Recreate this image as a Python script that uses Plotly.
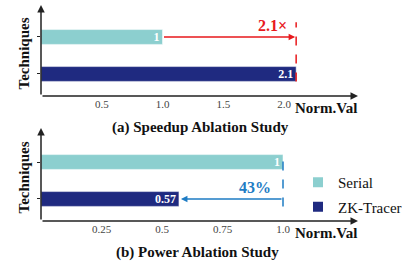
import plotly.graph_objects as go

techniques = ["Serial", "ZK-Tracer"]
speedup_vals = [1.0, 2.1]
power_vals = [1.0, 0.57]
speedup_ticks = [0.5, 1.0, 1.5, 2.0]
speedup_ticktext = ["0.5", "1.0", "1.5", "2.0"]
power_ticks = [0.25, 0.5, 0.75, 1.0]
power_ticktext = ["0.25", "0.5", "0.75", "1.0"]
speedup_label = "2.1×"
power_label = "43%"
colors = ["#8CCFCF", "#1F2A80"]

W, H = 417, 265
SERIF = "Liberation Serif"

def px(x):
    return x / W

def py(y):
    return 1 - y / H

fig = go.Figure()

for i, t in enumerate(techniques):
    fig.add_trace(go.Bar(
        y=[t], x=[speedup_vals[i]], orientation="h", name=t,
        marker=dict(color=colors[i], line=dict(color="white", width=0.5)),
        width=0.4, text=[f"{speedup_vals[i]:g}"], textposition="inside",
        insidetextanchor="end", constraintext="none", textangle=0,
        textfont=dict(family=SERIF, size=12, color="white", weight="bold"),
        xaxis="x", yaxis="y", showlegend=True, legendgroup=t,
    ))
for i, t in enumerate(techniques):
    fig.add_trace(go.Bar(
        y=[t], x=[power_vals[i]], orientation="h", name=t,
        marker=dict(color=colors[i], line=dict(color="white", width=0.5)),
        width=0.4, text=[f"{power_vals[i]:g}"], textposition="inside",
        insidetextanchor="end", constraintext="none", textangle=0,
        textfont=dict(family=SERIF, size=12, color="white", weight="bold"),
        xaxis="x2", yaxis="y2", showlegend=False, legendgroup=t,
    ))

x_l, x_r = 41, 358
top_t, top_b = 7, 96
bot_t, bot_b = 130, 221

tickfont = dict(family=SERIF, size=11, color="#444")
yax_common = dict(
    type="category", categoryarray=techniques[::-1], showticklabels=False,
    ticks="outside", ticklen=3, tickcolor="#222", showgrid=False,
    zeroline=False, showline=False,
)
fig.update_layout(
    width=W, height=H, margin=dict(l=0, r=0, t=0, b=0),
    paper_bgcolor="white", plot_bgcolor="white", barmode="overlay",
    xaxis=dict(domain=[px(x_l), px(x_r)], range=[0, (x_r - x_l) / 121.5],
               tickvals=speedup_ticks, ticktext=speedup_ticktext,
               tickfont=tickfont, showgrid=False, zeroline=False,
               showline=False, ticks="", anchor="y"),
    yaxis=dict(domain=[py(top_b), py(top_t)], range=[-0.595, 1.81],
               anchor="x", **yax_common),
    xaxis2=dict(domain=[px(x_l), px(x_r)], range=[0, (x_r - x_l) / 242],
                tickvals=power_ticks, ticktext=power_ticktext,
                tickfont=tickfont, showgrid=False, zeroline=False,
                showline=False, ticks="", anchor="y2"),
    yaxis2=dict(domain=[py(bot_b), py(bot_t)], range=[-0.595, 1.865],
                anchor="x2", **yax_common),
    legend=dict(x=px(298), y=py(166), xanchor="left", yanchor="top",
                font=dict(family=SERIF, size=15, color="#111"),
                bgcolor="rgba(0,0,0,0)", itemsizing="constant",
                tracegroupgap=2),
    font=dict(family=SERIF),
)

ann = []
for (yb, yt) in [(top_b, top_t), (bot_b, bot_t)]:
    ann.append(dict(xref="paper", yref="paper", axref="pixel", ayref="pixel",
                    x=px(x_l), y=py(yt - 2), ax=0, ay=(yb - yt + 2),
                    showarrow=True, arrowhead=2, arrowsize=1, arrowwidth=1.5,
                    arrowcolor="#222", text=""))
    ann.append(dict(xref="paper", yref="paper", axref="pixel", ayref="pixel",
                    x=px(x_r), y=py(yb), ax=-(x_r - x_l), ay=0,
                    showarrow=True, arrowhead=2, arrowsize=1, arrowwidth=1.5,
                    arrowcolor="#222", text=""))
    ann.append(dict(xref="paper", yref="paper", x=px(293), y=py(yb + 12),
                    xanchor="left", yanchor="middle", showarrow=False,
                    text="<b>Norm.Val</b>",
                    font=dict(family=SERIF, size=15, color="#111")))
    ann.append(dict(xref="paper", yref="paper", x=px(23), y=py((yt + yb) / 2 + 2),
                    xanchor="center", yanchor="middle", showarrow=False,
                    textangle=-90, text="<b>Techniques</b>",
                    font=dict(family=SERIF, size=15, color="#111")))

ann.append(dict(xref="paper", yref="paper", x=px(200), y=py(127),
                xanchor="center", yanchor="middle", showarrow=False,
                text="<b>(a) Speedup Ablation Study</b>",
                font=dict(family=SERIF, size=15, color="#111")))
ann.append(dict(xref="paper", yref="paper", x=px(197), y=py(252),
                xanchor="center", yanchor="middle", showarrow=False,
                text="<b>(b) Power Ablation Study</b>",
                font=dict(family=SERIF, size=15, color="#111")))

red = "#E8191C"
ann.append(dict(xref="x", yref="y", axref="x", ayref="y",
                x=speedup_vals[1], y=1, ax=speedup_vals[0], ay=1,
                showarrow=True, arrowhead=2, arrowsize=1, arrowwidth=1.3,
                arrowcolor=red, text="", standoff=1))
ann.append(dict(xref="x", yref="y", x=speedup_vals[1], y=1.3,
                xanchor="right", yanchor="middle", showarrow=False, xshift=-7,
                text=f"<b>{speedup_label}</b>",
                font=dict(family=SERIF, size=16, color=red)))
blue = "#1E7CC4"
ann.append(dict(xref="x2", yref="y2", axref="x2", ayref="y2",
                x=power_vals[1], y=0, ax=power_vals[0], ay=0,
                showarrow=True, arrowhead=2, arrowsize=1, arrowwidth=1.3,
                arrowcolor=blue, text="", standoff=2))
ann.append(dict(xref="x2", yref="y2", x=power_vals[0], y=0,
                xanchor="right", yanchor="bottom", showarrow=False, xshift=-10,
                yshift=1, text=f"<b>{power_label}</b>",
                font=dict(family=SERIF, size=16, color=blue)))

fig.update_layout(annotations=ann)
fig.add_shape(type="line", xref="x", yref="y", x0=speedup_vals[1], x1=speedup_vals[1],
              y0=-0.2, y1=1.4, line=dict(color=red, width=1.5, dash="dash"))
fig.add_shape(type="line", xref="x2", yref="y2", x0=power_vals[0], x1=power_vals[0],
              y0=-0.2, y1=1.2, line=dict(color=blue, width=1.5, dash="dash"))

fig.write_html("out.html", config={"displayModeBar": False},
               post_script="document.body.style.margin='0';document.body.style.padding='0';")
